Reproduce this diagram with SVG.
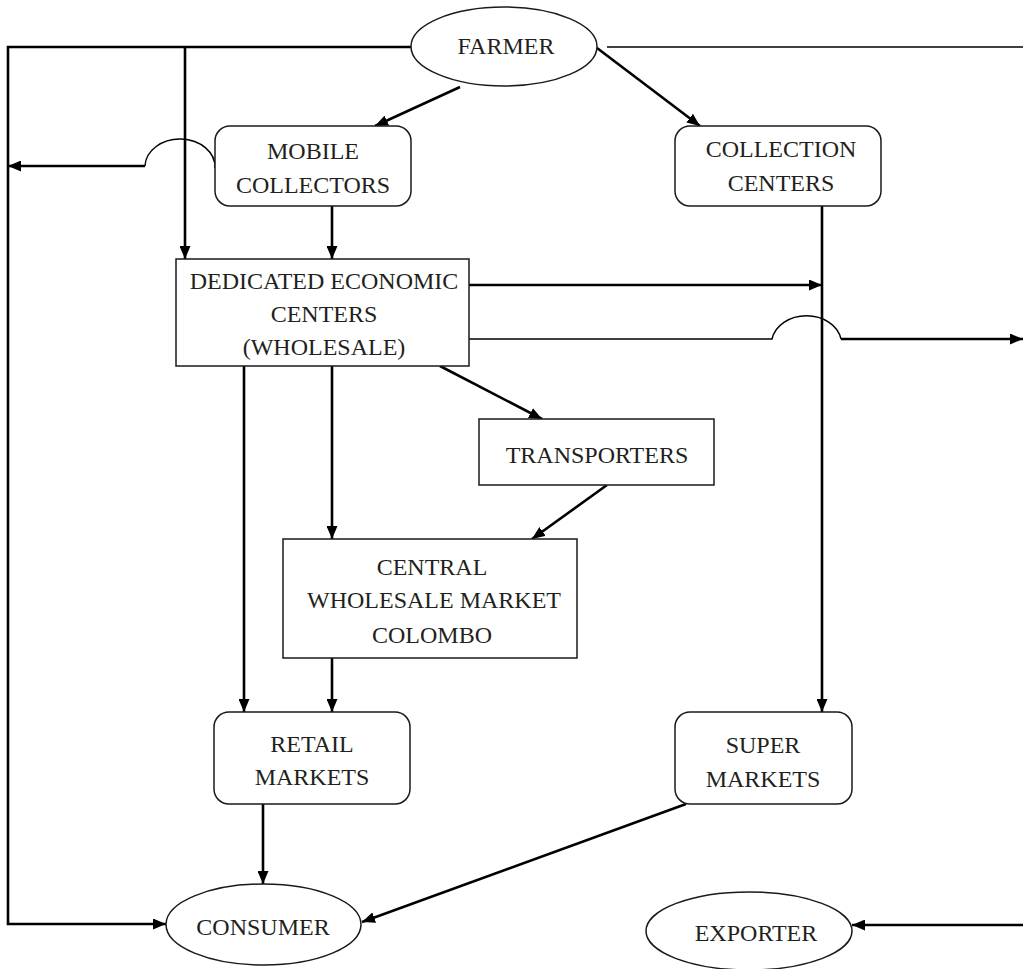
<svg xmlns="http://www.w3.org/2000/svg" width="1023" height="969" viewBox="0 0 1023 969">
  <style>
    .node { fill: #ffffff; stroke: #1a1a1a; stroke-width: 1.5; }
    .lbl { font-family: "Liberation Serif", "Times New Roman", serif; font-size: 24px; fill: #231f20; text-anchor: middle; }
    .thick { fill: none; stroke: #000000; stroke-width: 2.6; }
    .thin { fill: none; stroke: #000000; stroke-width: 1.5; }
  </style>
  <defs>
    <marker id="arrow" viewBox="0 0 13 11" refX="13" refY="5.5" markerWidth="13" markerHeight="11" markerUnits="userSpaceOnUse" orient="auto">
      <path d="M0,0 L13,5.5 L0,11 z" fill="#000000"/>
    </marker>
  </defs>

  <rect width="1023" height="969" fill="#ffffff"/>

  <!-- flow connectors -->
  <g id="connectors">
    <path class="thick" d="M411,47 H8 V924 H166" marker-end="url(#arrow)"/>
    <path class="thick" d="M185,47 V259" marker-end="url(#arrow)"/>
    <path class="thin" d="M607,47 H1023"/>
    <path class="thick" d="M460,87 L375,126" marker-end="url(#arrow)"/>
    <path class="thick" d="M597,48 L700,126" marker-end="url(#arrow)"/>
    <path class="thick" d="M145,166 H8" marker-end="url(#arrow)"/>
    <path class="thin" d="M145,166 A35,28 0 0 1 215,168"/>
    <path class="thick" d="M332,206 V259" marker-end="url(#arrow)"/>
    <path class="thick" d="M822,206 V712" marker-end="url(#arrow)"/>
    <path class="thick" d="M469,285 H822" marker-end="url(#arrow)"/>
    <path class="thin" d="M469,339 H772 A35,28 0 0 1 841,339"/>
    <path class="thick" d="M841,339 H1023" marker-end="url(#arrow)"/>
    <path class="thick" d="M244,366 V712" marker-end="url(#arrow)"/>
    <path class="thick" d="M332,366 V539" marker-end="url(#arrow)"/>
    <path class="thick" d="M440,366 L542,419" marker-end="url(#arrow)"/>
    <path class="thick" d="M607,485 L532,539" marker-end="url(#arrow)"/>
    <path class="thick" d="M332,658 V712" marker-end="url(#arrow)"/>
    <path class="thick" d="M263,804 V884" marker-end="url(#arrow)"/>
    <path class="thick" d="M686,804 L362,922" marker-end="url(#arrow)"/>
    <path class="thick" d="M1023,925 H852" marker-end="url(#arrow)"/>
  </g>

  <g id="farmer">
    <ellipse class="node" cx="504" cy="46.5" rx="93" ry="39.5"/>
    <text class="lbl" x="506" y="54">FARMER</text>
  </g>

  <g id="mobile-collectors">
    <rect class="node" x="215" y="126" width="196" height="80" rx="15"/>
    <text class="lbl" x="313" y="159">MOBILE</text>
    <text class="lbl" x="313" y="193">COLLECTORS</text>
  </g>

  <g id="collection-centers">
    <rect class="node" x="675" y="126" width="206" height="80" rx="15"/>
    <text class="lbl" x="781" y="157">COLLECTION</text>
    <text class="lbl" x="781" y="191">CENTERS</text>
  </g>

  <g id="dedicated-economic-centers">
    <rect class="node" x="176" y="259" width="293" height="107"/>
    <text class="lbl" x="324" y="289">DEDICATED ECONOMIC</text>
    <text class="lbl" x="324" y="322">CENTERS</text>
    <text class="lbl" x="324" y="355">(WHOLESALE)</text>
  </g>

  <g id="transporters">
    <rect class="node" x="479" y="419" width="235" height="66"/>
    <text class="lbl" x="597" y="463">TRANSPORTERS</text>
  </g>

  <g id="central-wholesale-market">
    <rect class="node" x="283" y="539" width="294" height="119"/>
    <text class="lbl" x="432" y="575">CENTRAL</text>
    <text class="lbl" x="434" y="608">WHOLESALE MARKET</text>
    <text class="lbl" x="432" y="643">COLOMBO</text>
  </g>

  <g id="retail-markets">
    <rect class="node" x="214" y="712" width="196" height="92" rx="15"/>
    <text class="lbl" x="312" y="752">RETAIL</text>
    <text class="lbl" x="312" y="785">MARKETS</text>
  </g>

  <g id="super-markets">
    <rect class="node" x="675" y="712" width="177" height="92" rx="15"/>
    <text class="lbl" x="763" y="753">SUPER</text>
    <text class="lbl" x="763" y="787">MARKETS</text>
  </g>

  <g id="consumer">
    <ellipse class="node" cx="263.5" cy="924.5" rx="97.5" ry="40.5"/>
    <text class="lbl" x="263" y="935">CONSUMER</text>
  </g>

  <g id="exporter">
    <ellipse class="node" cx="749" cy="931" rx="103" ry="39"/>
    <text class="lbl" x="756" y="941">EXPORTER</text>
  </g>
</svg>
